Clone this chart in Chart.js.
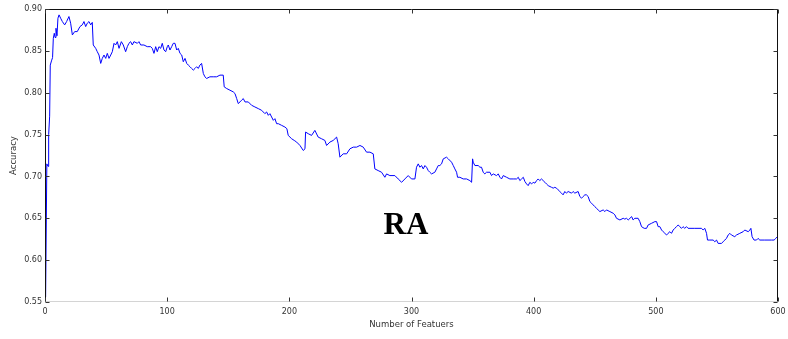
<!DOCTYPE html>
<html>
<head>
<meta charset="utf-8">
<script src="https://cdn.jsdelivr.net/npm/chart.js@4/dist/chart.umd.min.js"></script>
<style>
  html, body { margin: 0; padding: 0; background: #fff; }
  canvas { display: block; }
</style>
</head>
<body>
<canvas id="accChart" width="788" height="339"></canvas>
<script>
// accuracy vs. number of selected features
const featureCounts = [
    0.5, 1.5, 2.5, 3, 3.8, 4.3, 5.3, 6.2, 6.8, 7.6, 8.2, 9, 9.8, 10.6, 11.5, 12.8, 14.2, 16.1, 17.7, 19.6,
    21, 22.4, 24.3, 26.4, 28.6, 30.5, 31.9, 33.3, 34.6, 36, 37.4, 38.7, 39.5, 41.5, 42.8, 44.2, 45.6, 46.9, 48.3, 49.7,
    51, 52.4, 53.8, 55.1, 56.5, 57.8, 59.2, 60.6, 62.5, 64.1, 66, 67.4, 68.7, 70.1, 71.5, 72.8, 75.6, 76.9, 78.3, 81,
    83.7, 86.5, 87.8, 89.2, 90.6, 91.9, 93.3, 94.7, 96, 97.4, 98.8, 100.1, 100.9, 102.3, 103.7, 105, 106.4, 107.8, 109.1, 110.5,
    111.9, 113.2, 114.6, 116, 117.3, 118.7, 120, 121.4, 122.8, 124.1, 125.5, 126.8, 128.2, 129.6, 130.9, 132.3, 135, 137.7, 140.5, 143.2,
    145.9, 146.7, 148.7, 151.4, 154.1, 155.5, 156.9, 158.2, 159.6, 160.9, 162.3, 163.7, 166.4, 169.1, 171.8, 174.6, 177.3, 180, 181.4, 182.8,
    184.1, 185.5, 186.9, 188.2, 189.6, 191, 193.7, 196.4, 198, 199.1, 201.9, 204, 206, 208.7, 211.4, 212.8, 213.3, 215.5, 218.2, 220.9,
    223.6, 226.4, 229.1, 230.5, 233.2, 235.9, 238.7, 240, 241.4, 244.1, 246.9, 249.6, 252.3, 255.1, 257.8, 260.5, 263.2, 266, 268.7, 270,
    272.7, 275.5, 278.2, 279.6, 282.3, 286.4, 289.1, 291.9, 294.6, 297.3, 300, 302.8, 304.1, 305.5, 306.9, 308.2, 309.6, 311, 312.3, 313.7,
    315, 316.4, 319.1, 320.5, 321.9, 323.2, 324.6, 326, 328.7, 330.1, 332.8, 334.2, 335.5, 336.9, 337.7, 339.6, 342.3, 345.1, 347.8, 349.2,
    350, 350.5, 351.9, 354.6, 356, 357.3, 358.7, 360, 361.4, 364.2, 365.5, 366.9, 369.6, 371, 372.4, 373.7, 375.1, 377.8, 380.5, 383.2,
    386, 387.4, 388.7, 390.1, 391.5, 392.8, 394.2, 395.5, 396.9, 398.3, 399.6, 401, 402.4, 403.7, 405, 406.4, 407.8, 409.2, 410.5, 411.9,
    414.6, 416, 417.3, 418.7, 420, 421.4, 422.8, 424.1, 425.5, 426.8, 428.2, 431, 432.3, 433.7, 436.4, 437.8, 439.2, 440.5, 441.9, 443.2,
    444.6, 446, 447.4, 448.7, 450, 451.4, 452.8, 454.2, 456.9, 458.3, 459.6, 462.4, 465.1, 466.5, 467.8, 470.6, 473.3, 474.6, 476, 477.4,
    480.2, 481.4, 482.8, 485.5, 486.9, 488.3, 490.5, 492.4, 493.7, 496.5, 499.2, 500.6, 501.9, 503.3, 504.7, 506, 507.4, 508.8, 510, 511.5,
    512.8, 514.2, 515.5, 516.9, 518.3, 519.6, 521, 522.3, 523.7, 525.1, 526.4, 531.9, 537.4, 538.7, 540.1, 541.5, 542.3, 544.2, 546.9, 548.3,
    549.7, 551, 553.7, 555.1, 556.5, 557.8, 559.2, 560.6, 561.9, 564.6, 566, 568.7, 571.5, 572.8, 575.6, 577, 577.8, 578.8, 580.4, 582.4,
    583.7, 585.1, 589.2, 594.7, 596.8, 598.2, 599.5
];
const accuracy = [
    0.556, 0.715, 0.712, 0.750, 0.772, 0.833, 0.838, 0.842, 0.865, 0.871, 0.866, 0.877, 0.868, 0.889, 0.893, 0.889, 0.885, 0.881, 0.885, 0.891,
    0.883, 0.869, 0.873, 0.873, 0.879, 0.881, 0.885, 0.879, 0.883, 0.885, 0.881, 0.884, 0.857, 0.853, 0.849, 0.845, 0.835, 0.841, 0.845, 0.841,
    0.847, 0.841, 0.845, 0.849, 0.859, 0.857, 0.861, 0.853, 0.861, 0.857, 0.849, 0.855, 0.859, 0.861, 0.857, 0.861, 0.859, 0.861, 0.857, 0.857,
    0.855, 0.855, 0.853, 0.847, 0.855, 0.849, 0.855, 0.853, 0.859, 0.851, 0.849, 0.855, 0.857, 0.851, 0.855, 0.859, 0.859, 0.851, 0.853, 0.847,
    0.845, 0.837, 0.841, 0.835, 0.833, 0.831, 0.829, 0.827, 0.829, 0.831, 0.829, 0.833, 0.835, 0.823, 0.819, 0.817, 0.819, 0.819, 0.819, 0.821,
    0.821, 0.807, 0.805, 0.803, 0.801, 0.799, 0.793, 0.787, 0.789, 0.791, 0.793, 0.789, 0.789, 0.785, 0.783, 0.781, 0.779, 0.775, 0.777, 0.773,
    0.775, 0.771, 0.767, 0.769, 0.763, 0.763, 0.761, 0.759, 0.757, 0.749, 0.745, 0.743, 0.741, 0.737, 0.731, 0.733, 0.753, 0.751, 0.749, 0.755,
    0.747, 0.745, 0.743, 0.737, 0.741, 0.743, 0.747, 0.739, 0.723, 0.727, 0.727, 0.733, 0.735, 0.735, 0.737, 0.735, 0.729, 0.729, 0.727, 0.709,
    0.707, 0.705, 0.699, 0.703, 0.701, 0.701, 0.697, 0.693, 0.697, 0.701, 0.697, 0.697, 0.711, 0.715, 0.711, 0.713, 0.709, 0.713, 0.711, 0.707,
    0.705, 0.703, 0.705, 0.709, 0.713, 0.713, 0.715, 0.721, 0.723, 0.721, 0.717, 0.713, 0.709, 0.705, 0.699, 0.699, 0.697, 0.697, 0.695, 0.693,
    0.721, 0.717, 0.713, 0.713, 0.711, 0.711, 0.705, 0.703, 0.705, 0.705, 0.701, 0.703, 0.701, 0.703, 0.699, 0.697, 0.701, 0.699, 0.697, 0.697,
    0.697, 0.699, 0.695, 0.697, 0.699, 0.694, 0.691, 0.689, 0.693, 0.691, 0.693, 0.692, 0.695, 0.697, 0.695, 0.697, 0.695, 0.693, 0.691, 0.689,
    0.687, 0.686, 0.687, 0.686, 0.684, 0.682, 0.680, 0.678, 0.682, 0.680, 0.682, 0.680, 0.682, 0.680, 0.682, 0.676, 0.674, 0.676, 0.678, 0.678,
    0.676, 0.670, 0.668, 0.666, 0.664, 0.662, 0.660, 0.658, 0.660, 0.658, 0.660, 0.658, 0.656, 0.654, 0.650, 0.648, 0.650, 0.649, 0.650, 0.648,
    0.652, 0.648, 0.650, 0.650, 0.646, 0.640, 0.638, 0.638, 0.642, 0.644, 0.646, 0.646, 0.640, 0.640, 0.636, 0.634, 0.632, 0.630, 0.632, 0.634,
    0.632, 0.636, 0.638, 0.640, 0.642, 0.640, 0.638, 0.640, 0.638, 0.640, 0.638, 0.638, 0.638, 0.636, 0.638, 0.632, 0.624, 0.624, 0.624, 0.622,
    0.624, 0.620, 0.620, 0.622, 0.624, 0.626, 0.630, 0.632, 0.630, 0.628, 0.630, 0.632, 0.634, 0.636, 0.634, 0.636, 0.638, 0.628, 0.624, 0.624,
    0.626, 0.624, 0.624, 0.624, 0.624, 0.626, 0.628
];
const xTicks = [0, 100, 200, 300, 400, 500, 600];
const yTicks = [0.55, 0.60, 0.65, 0.70, 0.75, 0.80, 0.85, 0.90];
const xTitle = "Number of Featuers";
const yTitle = "Accuracy";
const panelLabel = "RA";

const tickFont = { family: "DejaVu Sans", size: 8 };
const titleFont = { family: "DejaVu Sans", size: 8.5 };

// box around the plot with inward tick marks on every side
const framePlugin = {
    id: "frame",
    afterDraw(chart) {
        const ctx = chart.ctx;
        const a = chart.chartArea;
        const xs = chart.scales.x, ys = chart.scales.y;
        const L = Math.round(a.left) + 0.5, R = Math.round(a.right) - 0.5;
        const T = Math.round(a.top) + 0.5, B = Math.round(a.bottom) - 0.5;
        ctx.save();
        ctx.lineWidth = 1;
        ctx.strokeStyle = "#d4d4d4";
        ctx.beginPath();
        ctx.moveTo(L, B); ctx.lineTo(R, B);
        ctx.stroke();
        ctx.strokeStyle = "#111";
        ctx.beginPath();
        ctx.moveTo(L, B); ctx.lineTo(L, T); ctx.lineTo(R, T); ctx.lineTo(R, B);
        ctx.stroke();
        ctx.strokeStyle = "#333";
        ctx.beginPath();
        xTicks.forEach(v => {
            const px = Math.round(xs.getPixelForValue(v)) + 0.5;
            ctx.moveTo(px, T); ctx.lineTo(px, T + 4);
            ctx.moveTo(px, B); ctx.lineTo(px, B - 4);
        });
        yTicks.forEach(v => {
            const py = Math.round(ys.getPixelForValue(v)) + 0.5;
            ctx.moveTo(L, py); ctx.lineTo(L + 4, py);
            ctx.moveTo(R, py); ctx.lineTo(R - 4, py);
        });
        ctx.stroke();

        ctx.fillStyle = "#000";
        ctx.font = "bold 31px 'Liberation Serif'";
        ctx.textAlign = "center";
        ctx.textBaseline = "alphabetic";
        ctx.fillText(panelLabel, 406, 234);
        ctx.restore();
    }
};

new Chart("accChart", {
    type: "line",
    data: {
        datasets: [{
            data: featureCounts.map((x, i) => ({ x: x, y: accuracy[i] })),
            borderColor: "#0000ff",
            borderWidth: 1,
            pointRadius: 0,
            tension: 0,
            fill: false
        }]
    },
    options: {
        responsive: false,
        animation: false,
        devicePixelRatio: 1,
        layout: { padding: { top: 9, right: 10, left: 0, bottom: 0 } },
        plugins: {
            legend: { display: false },
            tooltip: { enabled: false }
        },
        scales: {
            x: {
                type: "linear",
                min: 0,
                max: 600,
                afterFit: s => { s.height = 37; s.paddingLeft = 0; s.paddingRight = 0; },
                afterBuildTicks: s => { s.ticks = xTicks.map(v => ({ value: v })); },
                grid: { display: false, drawTicks: false },
                border: { display: false },
                ticks: { font: tickFont, color: "#333", padding: 5, maxRotation: 0, autoSkip: false },
                title: { display: true, text: xTitle, font: titleFont, color: "#333", padding: { top: 0, bottom: 9 } }
            },
            y: {
                type: "linear",
                min: 0.55,
                max: 0.90,
                afterFit: s => { s.width = 45; s.paddingTop = 0; s.paddingBottom = 0; },
                afterBuildTicks: s => { s.ticks = yTicks.map(v => ({ value: v })); },
                grid: { display: false, drawTicks: false },
                border: { display: false },
                ticks: { font: tickFont, color: "#333", padding: 3, autoSkip: false, callback: v => v.toFixed(2) },
                title: { display: true, text: yTitle, font: titleFont, color: "#333", padding: { top: 9, bottom: 0 } }
            }
        }
    },
    plugins: [framePlugin]
});
</script>
</body>
</html>
